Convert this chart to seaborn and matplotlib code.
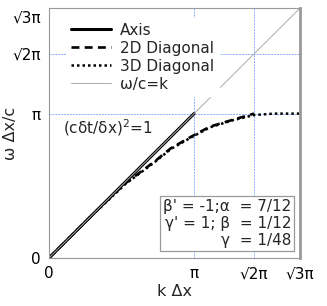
import numpy as np
import seaborn as sns
import matplotlib.pyplot as plt

# all values in units of pi
axis_k = [0.0, 1.0]
axis_w = [0.0, 1.0]

diag2_k = [0.0, 0.30, 0.45, 0.53, 0.59, 0.73, 0.84, 0.98, 1.11, 1.27, 1.414]
diag2_w = [0.0, 0.30, 0.445, 0.52, 0.565, 0.67, 0.76, 0.84, 0.91, 0.958, 1.0]

diag3_k = [0.0, 0.30, 0.45, 0.53, 0.59, 0.73, 0.84, 0.98, 1.11, 1.27, 1.414, 1.55, 1.732]
diag3_w = [0.0, 0.30, 0.44, 0.515, 0.56, 0.665, 0.755, 0.835, 0.905, 0.955, 0.99, 1.0, 1.0]

light_k = [0.0, 1.732]
light_w = [0.0, 1.732]

xtick_pos = [0, 1, 1.414, 1.732]
xtick_lab = ["0", "π", "√2π", "√3π"]
ytick_pos = [0, 1, 1.414, 1.676]
ytick_lab = ["0", "π", "√2π", "√3π"]

sns.set_style("white")
plt.rcParams['font.family'] = ['DejaVu Sans']

fig = plt.figure(figsize=(3.27, 3.06), dpi=100)
ax = fig.add_axes([0.150, 0.157, 0.768, 0.817])

grid_kw = dict(color="#8fb0ff", lw=0.7, linestyle=(0, (2, 1)), zorder=0)
for v in [1, 1.414]:
    ax.axvline(v, **grid_kw)
    ax.axhline(v, **grid_kw)

sns.lineplot(x=axis_k, y=axis_w, ax=ax, color="black", lw=2.2, label="Axis", sort=False)
sns.lineplot(x=diag2_k, y=diag2_w, ax=ax, color="black", lw=1.9, linestyle=(0, (3, 2)),
             label="2D Diagonal", sort=False)
sns.lineplot(x=diag3_k, y=diag3_w, ax=ax, color="black", lw=1.8, linestyle=(0, (1, 1.2)),
             label="3D Diagonal", sort=False)
sns.lineplot(x=light_k, y=light_w, ax=ax, color="#aaaaaa", lw=0.7, label="ω/c=k", sort=False)

ax.set_xlim(0, 1.732)
ax.set_ylim(0, 1.732)
ax.set_xticks(xtick_pos)
ax.set_xticklabels(xtick_lab, fontsize=11)
ax.set_yticks(ytick_pos)
ax.set_yticklabels(ytick_lab, fontsize=11)
ax.tick_params(direction="out", length=4, width=0.8, color="#888888", pad=2, labelcolor="black")

for side in ["left", "bottom", "top"]:
    ax.spines[side].set_color("#999999")
    ax.spines[side].set_linewidth(0.8)
ax.spines["right"].set_color("#999999")
ax.spines["right"].set_linewidth(2.0)

ax.set_xlabel("k Δx", fontsize=11.5, labelpad=2)
ax.set_ylabel("ω Δx/c", fontsize=11.5)
ax.yaxis.set_label_coords(-0.125, 0.5)

leg = ax.legend(loc="upper left", bbox_to_anchor=(0.04, 0.99), fontsize=11, frameon=True,
                fancybox=False, handlelength=2.6, handletextpad=0.6, labelspacing=0.2,
                borderpad=0.3)
leg.get_frame().set_edgecolor("white")
leg.get_frame().set_facecolor("white")
leg.get_frame().set_alpha(1)

ax.text(0.055, 0.52, "(cδt/δx)$^2$=1", transform=ax.transAxes, fontsize=11,
        ha="left", va="center")

ax.text(0.965, 0.04, "β' = -1;α  = 7/12\nγ' = 1; β  = 1/12\nγ  = 1/48",
        transform=ax.transAxes, fontsize=11, ha="right", va="bottom",
        multialignment="right", linespacing=1.15,
        bbox=dict(boxstyle="square,pad=0.2", fc="white", ec="#999999", lw=0.9))

fig.savefig("out.png", dpi=100)
